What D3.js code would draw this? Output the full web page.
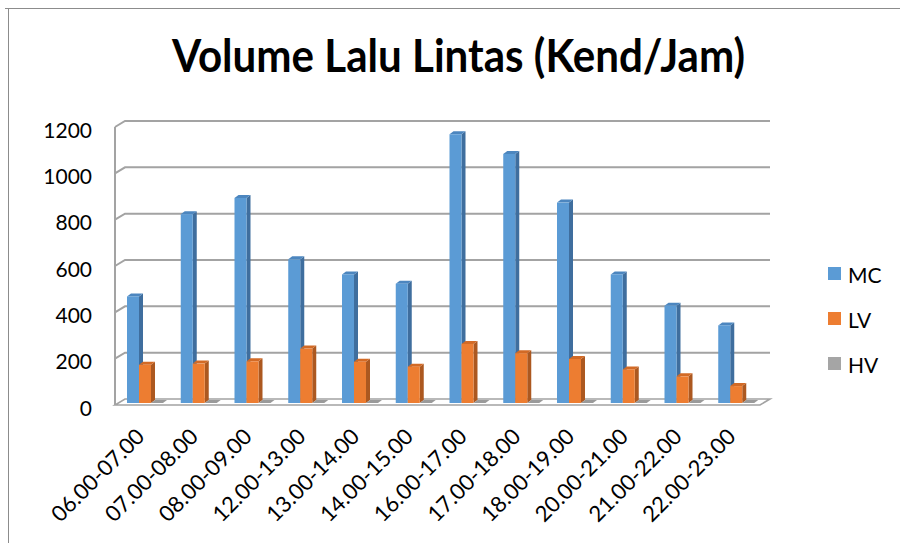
<!DOCTYPE html>
<html>
<head>
<meta charset="utf-8">
<script src="https://cdn.jsdelivr.net/npm/d3@7"></script>
<style>
  body { margin: 0; background: #fff; }
  svg { display: block; }
</style>
</head>
<body>
<div id="chart"></div>
<script>
// data
const periods = ["06.00-07.00", "07.00-08.00", "08.00-09.00", "12.00-13.00", "13.00-14.00", "14.00-15.00",
  "16.00-17.00", "17.00-18.00", "18.00-19.00", "20.00-21.00", "21.00-22.00", "22.00-23.00"];
const seriesNames = ["MC", "LV", "HV"];
const mcValues = [460, 815, 885, 620, 555, 515, 1160, 1075, 865, 555, 420, 335];
const lvValues = [165, 170, 180, 235, 178, 157, 255, 215, 190, 145, 115, 73];
const hvValues = [0, 0, 0, 0, 0, 0, 0, 0, 0, 0, 0, 0];
const yTicks = [0, 200, 400, 600, 800, 1000, 1200];

const colors = {
  MC: { front: "#5B9BD5", side: "#3F6E9E", top: "#4C86BF" },
  LV: { front: "#ED7D31", side: "#AC5820", top: "#D26A26" },
  HV: { front: "#A5A5A5", side: "#7B7B7B", top: "#9A9A9A" }
};

let svg = d3.select("#chart").append("svg").attr("width", 900).attr("height", 543);

// chart border
svg.append("path")
  .attr("d", "M5,8.5H900M8.5,8.5V543")
  .attr("fill", "none")
  .attr("stroke", "#8C8C8C")
  .attr("stroke-width", 1);

// title
svg.append("text")
  .attr("x", 458.5)
  .attr("y", 72)
  .attr("text-anchor", "middle")
  .attr("textLength", 573)
  .attr("lengthAdjust", "spacingAndGlyphs")
  .style("font-family", "Lato, 'Open Sans', sans-serif")
  .style("font-weight", "bold")
  .style("font-size", "45px")
  .text("Volume Lalu Lintas (Kend/Jam)");

// scales
let xScale = d3.scaleBand().domain(periods).range([115, 760]);
let subScale = d3.scaleBand().domain(seriesNames).range([12, 48]);
let yScale = d3.scaleLinear().domain([0, 1200]).range([405, 127]);

// depth of walls and bars
const wallDx = 10, wallDy = -6;
const barDx = 4, barDy = -3, barLift = 2;

let grid = svg.append("g").attr("fill", "none").attr("stroke", "#A3A3A3").attr("stroke-width", 2);

// floor
grid.append("path")
  .attr("d", "M" + xScale.range()[0] + "," + yScale(0) +
    "L" + xScale.range()[1] + "," + yScale(0) +
    "L" + (xScale.range()[1] + wallDx) + "," + (yScale(0) + wallDy) +
    "L" + (xScale.range()[0] + wallDx) + "," + (yScale(0) + wallDy) + "Z")
  .attr("stroke-width", 1.6);

// back wall gridlines plus side wall diagonals
grid.selectAll(".gridline")
  .data(yTicks.filter(function (d) { return d > 0; }))
  .enter()
  .append("path")
  .attr("class", "gridline")
  .attr("d", function (d) {
    let x0 = xScale.range()[0], y0 = yScale(d);
    return "M" + x0 + "," + y0 + "L" + (x0 + wallDx) + "," + (y0 + wallDy) +
      "H" + (xScale.range()[1] + wallDx);
  });

// side wall left edge
grid.append("path")
  .attr("d", "M" + xScale.range()[0] + "," + yScale(1200) + "V" + yScale(0));

// y axis labels
svg.append("g")
  .selectAll("text")
  .data(yTicks)
  .enter()
  .append("text")
  .attr("x", 92)
  .attr("y", function (d) { return yScale(d) + 2; })
  .attr("text-anchor", "end")
  .attr("dominant-baseline", "central")
  .style("font-family", "Lato, 'Open Sans', sans-serif")
  .style("font-size", "21px")
  .style("fill", "#000")
  .text(function (d) { return d; });

// bars as front, side and top faces
let barData = [];
periods.forEach(function (p, i) {
  barData.push({ period: p, series: "MC", value: mcValues[i] });
  barData.push({ period: p, series: "LV", value: lvValues[i] });
  barData.push({ period: p, series: "HV", value: hvValues[i] });
});

let bars = svg.append("g")
  .selectAll("g")
  .data(barData)
  .enter()
  .append("g");

function barX(d) { return xScale(d.period) + subScale(d.series); }
function barTop(d) { return yScale(d.value) - barLift; }
const barBase = yScale(0) - barLift;
const bw = subScale.bandwidth();

bars.append("path")
  .attr("fill", function (d) { return colors[d.series].side; })
  .attr("d", function (d) {
    let x = barX(d) + bw, t = barTop(d);
    return "M" + x + "," + barBase + "L" + (x + barDx) + "," + (barBase + barDy) +
      "L" + (x + barDx) + "," + (t + barDy) + "L" + x + "," + t + "Z";
  });

bars.append("path")
  .attr("fill", function (d) { return colors[d.series].top; })
  .attr("d", function (d) {
    let x = barX(d), t = barTop(d);
    return "M" + x + "," + t + "L" + (x + bw) + "," + t +
      "L" + (x + bw + barDx) + "," + (t + barDy) + "L" + (x + barDx) + "," + (t + barDy) + "Z";
  });

bars.append("rect")
  .attr("x", barX)
  .attr("y", barTop)
  .attr("width", bw)
  .attr("height", function (d) { return barBase - barTop(d); })
  .attr("fill", function (d) { return colors[d.series].front; });

// x axis labels, rotated
svg.append("g")
  .selectAll("text")
  .data(periods)
  .enter()
  .append("text")
  .attr("transform", function (d) {
    return "translate(" + (xScale(d) + xScale.bandwidth() / 2 + 4) + "," + 438 + ") rotate(-45)";
  })
  .attr("text-anchor", "end")
  .style("font-family", "Lato, 'Open Sans', sans-serif")
  .style("font-size", "22px")
  .style("fill", "#000")
  .text(function (d) { return d; });

// legend
let legend = svg.append("g")
  .selectAll("g")
  .data(seriesNames)
  .enter()
  .append("g")
  .attr("transform", function (d, i) { return "translate(828," + (267 + i * 45) + ")"; });

legend.append("rect")
  .attr("width", 13)
  .attr("height", 13)
  .attr("fill", function (d) { return colors[d].front; });

legend.append("text")
  .attr("x", 20)
  .attr("y", 7)
  .attr("dominant-baseline", "central")
  .style("font-family", "Lato, 'Open Sans', sans-serif")
  .style("font-size", "21px")
  .style("fill", "#000")
  .text(function (d) { return d; });
</script>
</body>
</html>
